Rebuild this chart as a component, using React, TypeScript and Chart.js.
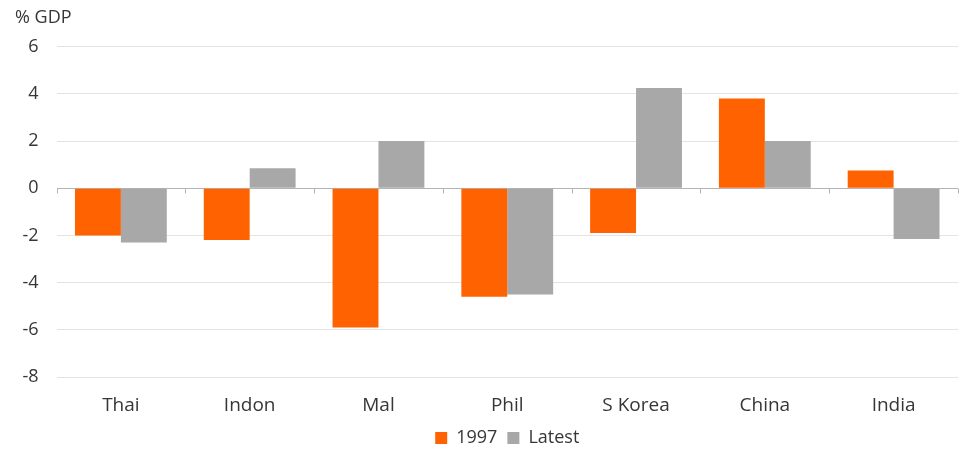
import { useEffect, useRef } from 'react';
import { Chart, registerables } from 'chart.js';

Chart.register(...registerables);

// Current account balance, % of GDP
const categories = ['Thai', 'Indon', 'Mal', 'Phil', 'S Korea', 'China', 'India'];
const values1997 = [-2.0, -2.2, -5.9, -4.6, -1.9, 3.8, 0.75];
const valuesLatest = [-2.3, 0.85, 2.0, -4.5, 4.25, 2.0, -2.15];
const yMin = -8;
const yMax = 6;
const yStep = 2;

const ORANGE = '#FF6200';
const GREY = '#A8A8A8';
const TEXT = '#363636';
const FONT = "'Open Sans', 'DejaVu Sans', sans-serif";

// Small tick marks hanging below the zero line at each category boundary
const zeroTicks = {
  id: 'zeroTicks',
  afterDatasetsDraw(chart: any) {
    const x = chart.scales.x;
    const y = chart.scales.y;
    const y0 = Math.round(y.getPixelForValue(0)) + 0.5;
    const { left, right } = chart.chartArea;
    const ctx = chart.ctx;
    ctx.save();
    ctx.strokeStyle = '#b4b4b4';
    ctx.lineWidth = 1;
    const n = categories.length;
    ctx.beginPath();
    for (let i = 0; i <= n; i++) {
      const px =
        Math.round(
          i === 0 ? left : i === n ? right : (x.getPixelForValue(i - 1) + x.getPixelForValue(i)) / 2
        ) + 0.5;
      ctx.moveTo(px, y0);
      ctx.lineTo(px, y0 + 5);
    }
    ctx.stroke();
    ctx.restore();
  },
};

export default function App() {
  const canvasRef = useRef<HTMLCanvasElement | null>(null);

  useEffect(() => {
    document.body.style.margin = '0';
    const canvas = canvasRef.current;
    if (!canvas) return;
    const chart = new Chart(canvas, {
      type: 'bar',
      data: {
        labels: categories,
        datasets: [
          { label: '1997', data: values1997, backgroundColor: ORANGE, borderWidth: 0 },
          { label: 'Latest', data: valuesLatest, backgroundColor: GREY, borderWidth: 0 },
        ],
      },
      options: {
        animation: false,
        responsive: false,
        maintainAspectRatio: false,
        datasets: {
          bar: { barPercentage: 1, categoryPercentage: 0.713 },
        },
        layout: { padding: { left: 15, right: 5, top: 0, bottom: -7 } },
        plugins: {
          title: {
            display: true,
            text: '% GDP',
            align: 'start',
            color: TEXT,
            font: { family: FONT, size: 18, weight: 'normal' },
            padding: { top: 7, bottom: 18 },
          },
          legend: {
            position: 'bottom',
            fullSize: false,
            labels: {
              color: TEXT,
              font: { family: FONT, size: 18 },
              boxWidth: 12,
              boxHeight: 12,
              padding: 10,
            },
          },
          tooltip: { enabled: false },
        },
        scales: {
          x: {
            grid: { display: false, drawTicks: false },
            border: { display: false },
            ticks: { color: TEXT, font: { family: FONT, size: 19 }, padding: 17 },
            afterFit(scale: any) {
              scale.height = 42;
            },
          },
          y: {
            min: yMin,
            max: yMax,
            grid: {
              drawTicks: false,
              color: (ctx: any) => (ctx.tick && ctx.tick.value === 0 ? '#b4b4b4' : '#e3e3e3'),
            },
            border: { display: false },
            ticks: {
              stepSize: yStep,
              color: TEXT,
              font: { family: FONT, size: 18 },
              padding: 18,
            },
            afterFit(scale: any) {
              scale.width = 41.5;
            },
          },
        },
      },
      plugins: [zeroTicks],
    });
    return () => chart.destroy();
  }, []);

  return <canvas ref={canvasRef} width={963} height={450} style={{ display: 'block' }} />;
}
